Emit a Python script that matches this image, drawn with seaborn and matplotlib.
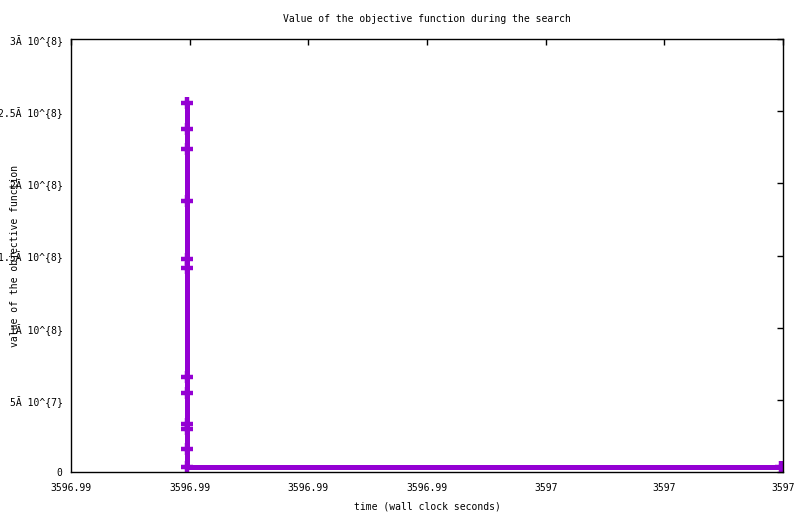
import matplotlib
matplotlib.use("Agg")
import matplotlib.pyplot as plt
import seaborn as sns
import pandas as pd

# data
time_s = [3596.98995, 3596.98995, 3596.98995, 3596.98995, 3596.98995, 3596.98995,
          3596.98995, 3596.98995, 3596.98995, 3596.98995, 3596.98995, 3596.98995,
          3596.99996]
objective = [2.555e8, 2.377e8, 2.238e8, 1.880e8, 1.476e8, 1.416e8,
             0.660e8, 0.545e8, 0.330e8, 0.300e8, 0.159e8, 0.033e8,
             0.033e8]

x_ticks = [3596.988, 3596.990, 3596.992, 3596.994, 3596.996, 3596.998, 3597.000]
x_tick_labels = ["3596.99", "3596.99", "3596.99", "3596.99", "3597", "3597", "3597"]
y_ticks = [0, 0.5e8, 1.0e8, 1.5e8, 2.0e8, 2.5e8, 3.0e8]
y_tick_labels = ["0", "5Ă 10^{7}", "1Ă 10^{8}", "1.5Ă 10^{8}", "2Ă 10^{8}",
                 "2.5Ă 10^{8}", "3Ă 10^{8}"]

title = "Value of the objective function during the search"
x_label = "time (wall clock seconds)"
y_label = "value of the objective function"

df = pd.DataFrame({"time": time_s, "objective": objective})

sns.set_style("white")
plt.rcParams["font.family"] = ["DejaVu Sans Mono", "DejaVu Sans"]
plt.rcParams["text.color"] = "black"
plt.rcParams["axes.labelcolor"] = "black"

fig = plt.figure(figsize=(8.0, 5.14), dpi=100)
ax = fig.add_axes([71 / 800, 42 / 514, 712 / 800, 433 / 514])

sns.lineplot(data=df, x="time", y="objective", estimator=None, sort=False,
             color="#9400D3", linewidth=3.6, marker="+", markersize=8.5,
             markeredgewidth=3.2, markeredgecolor="#9400D3", ax=ax)

ax.set_xlim(3596.988, 3597.000)
ax.set_ylim(0, 3.0e8)
ax.set_xticks(x_ticks)
ax.set_xticklabels(x_tick_labels)
ax.set_yticks(y_ticks)
ax.set_yticklabels(y_tick_labels)

ax.tick_params(axis="both", direction="in", length=4, width=1, colors="black",
               labelsize=7, top=True, right=True)
ax.tick_params(axis="x", pad=8)
ax.tick_params(axis="y", pad=6)

for s in ax.spines.values():
    s.set_visible(True)
    s.set_color("black")
    s.set_linewidth(1)

ax.set_title(title, fontsize=7, pad=12, color="black")
ax.set_xlabel(x_label, fontsize=7, color="black")
ax.set_ylabel(y_label, fontsize=7, color="black")
ax.xaxis.set_label_coords(0.5, -0.068)
ax.yaxis.set_label_coords(-0.072, 0.5)

fig.savefig("out.png", dpi=100)
